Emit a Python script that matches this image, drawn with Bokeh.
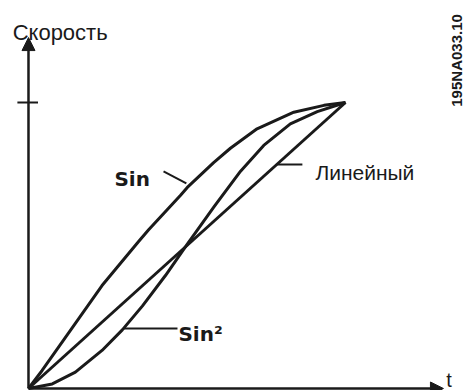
from bokeh.plotting import figure
from bokeh.models import Range1d, Arrow, NormalHead
from bokeh.core.properties import value
from bokeh.embed import file_html
from bokeh.resources import INLINE

# ---- data (normalised time t and speed v) ----
linear_t = [0.0, 1.0]
linear_v = [0.0, 1.0]

sin_t = [0.0, 0.043, 0.096, 0.159, 0.232, 0.348, 0.379, 0.479, 0.501, 0.584, 0.637, 0.721, 0.837, 0.932, 1.0]
sin_v = [0.0, 0.063, 0.146, 0.245, 0.360, 0.515, 0.555, 0.675, 0.703, 0.790, 0.840, 0.908, 0.966, 0.990, 1.0]

sin2_t = [0.0, 0.075, 0.148, 0.232, 0.296, 0.359, 0.432, 0.501, 0.585, 0.669, 0.742, 0.826, 0.911, 1.0]
sin2_v = [0.0, 0.016, 0.057, 0.133, 0.205, 0.288, 0.395, 0.505, 0.635, 0.760, 0.850, 0.925, 0.968, 1.0]

y_title = "Скорость"
x_title = "t"
label_sin = "Sin"
label_sin2 = "Sin²"
label_lin = "Линейный"
fig_code = "195NA033.10"

INK = "#1a1a1a"

p = figure(width=464, height=390, output_backend="svg", toolbar_location=None,
           x_range=Range1d(-0.0883, 1.3754), y_range=Range1d(-0.007, 1.3566),
           min_border=0, outline_line_color=None)
p.axis.visible = False
p.grid.visible = False
p.background_fill_color = "white"
p.border_fill_color = "white"

# axes with arrows
p.add_layout(Arrow(x_start=0, y_start=0, x_end=0, y_end=1.227, line_width=2.5,
                   line_color=INK,
                   end=NormalHead(size=13, fill_color=INK, line_color=INK)))
p.add_layout(Arrow(x_start=0, y_start=0, x_end=1.309, y_end=0, line_width=2.5,
                   line_color=INK,
                   end=NormalHead(size=13, fill_color=INK, line_color=INK)))
# tick at full speed
p.line([-0.035, 0.03], [1.0, 1.0], line_width=2, line_color=INK)

# curves
p.line(linear_t, linear_v, line_width=3, line_color=INK)
p.line(sin_t, sin_v, line_width=3, line_color=INK, line_join="round")
p.line(sin2_t, sin2_v, line_width=3, line_color=INK, line_join="round")

# callout leaders
p.line([0.426, 0.498], [0.759, 0.717], line_width=2, line_color=INK)
p.line([0.785, 0.864], [0.783, 0.783], line_width=2, line_color=INK)
p.line([0.30, 0.47], [0.210, 0.210], line_width=2, line_color=INK)

# labels
p.text(x=[-0.050], y=[1.245], text=[y_title], text_font=value("Liberation Sans"),
       text_font_size="22px", text_color=INK, text_align="left", text_baseline="alphabetic")
p.text(x=[1.318], y=[0.030], text=[x_title], text_font=value("Liberation Sans"),
       text_font_size="20px", text_color=INK, text_align="left", text_baseline="alphabetic")
p.text(x=[0.905], y=[0.755], text=[label_lin], text_font=value("Liberation Sans"),
       text_font_size="21px", text_color=INK, text_align="left", text_baseline="alphabetic")
p.text(x=[0.271], y=[0.734], text=[label_sin], text_font=value("DejaVu Sans"),
       text_font_style="bold", text_font_size="20px", text_color=INK,
       text_align="left", text_baseline="alphabetic")
p.text(x=[0.473], y=[0.189], text=[label_sin2], text_font=value("DejaVu Sans"),
       text_font_style="bold", text_font_size="20px", text_color=INK,
       text_align="left", text_baseline="alphabetic")
p.text(x=[1.350], y=[1.147], text=[fig_code], text_font=value("Liberation Sans"),
       text_font_style="bold", text_font_size="15px", text_color=INK,
       text_align="center", text_baseline="middle", angle=1.5708)

open("out.html", "w").write(file_html(p, INLINE))
